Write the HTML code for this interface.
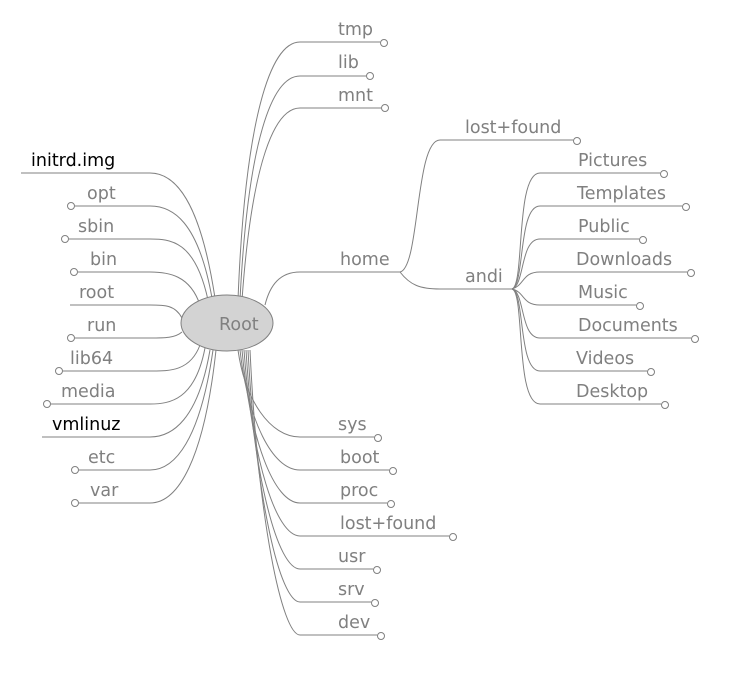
<!DOCTYPE html>
<html><head><style>body{margin:0;background:#fff}svg{display:block}text{font-family:"DejaVu Sans","Liberation Sans",sans-serif;font-size:17.5px;fill:#808080}</style></head><body>
<svg width="732" height="674" viewBox="0 0 732 674" xmlns="http://www.w3.org/2000/svg">
<g fill="none" stroke="#808080" stroke-width="1">
<path d="M238,300 C245,120 270,42 300,42 L380,42"/>
<path d="M240,300 C248,140 272,76 300,76 L366,76"/>
<path d="M242,300 C252,160 275,108 300,108 L381,108"/>
<path d="M265,305 C270,285 280,272 300,272 L400,272"/>
<path d="M400,272 C420,268 415,140 440,140 L573,140"/>
<path d="M400,272 C410,285 420,289 440,289 L512,289"/>
<g>
<path d="M512,289 C525,285 515,173 540,173 L660,173"/>
<path d="M512,289 C525,285 518,206 540,206 L682,206"/>
<path d="M512,289 C525,285 520,239 540,239 L639,239"/>
<path d="M512,289 C525,285 522,272 540,272 L687,272"/>
<path d="M512,289 C525,292 522,305 540,305 L636,305"/>
<path d="M512,289 C525,292 520,338 540,338 L691,338"/>
<path d="M512,289 C525,292 518,371 540,371 L647,371"/>
<path d="M512,289 C525,292 515,404 540,404 L661,404"/>
</g>
<path d="M238,350 C245,400 270,437 300,437 L374,437"/>
<path d="M240,350 C248,420 272,470 300,470 L389,470"/>
<path d="M242,350 C250,440 274,503 300,503 L387,503"/>
<path d="M244,350 C252,460 276,536 300,536 L449,536"/>
<path d="M246,350 C254,480 278,569 300,569 L373,569"/>
<path d="M248,350 C256,500 280,602 300,602 L371,602"/>
<path d="M250,350 C258,520 282,635 300,635 L377,635"/>
<path d="M215,298 C200,200 175,173 150,173 L21,173"/>
<path d="M212,298 C198,220 172,206 150,206 L75,206"/>
<path d="M208,300 C195,240 170,239 150,239 L69,239"/>
<path d="M200,305 C190,275 168,272 150,272 L78,272"/>
<path d="M182,318 C175,305 165,305 150,305 L70,305"/>
<path d="M182,332 C175,338 165,338 150,338 L75,338"/>
<path d="M200,345 C190,372 168,371 150,371 L63,371"/>
<path d="M205,348 C195,400 170,404 150,404 L51,404"/>
<path d="M210,350 C198,420 172,437 150,437 L42,437"/>
<path d="M213,350 C200,440 175,470 150,470 L79,470"/>
<path d="M216,350 C204,460 178,503 150,503 L79,503"/>
</g>
<g fill="#fff" stroke="#808080">
<circle cx="384" cy="43" r="3.5"/><circle cx="370" cy="76" r="3.5"/><circle cx="385" cy="108" r="3.5"/>
<circle cx="577" cy="141" r="3.5"/>
<circle cx="664" cy="174" r="3.5"/><circle cx="686" cy="207" r="3.5"/><circle cx="643" cy="240" r="3.5"/><circle cx="691" cy="273" r="3.5"/><circle cx="640" cy="306" r="3.5"/><circle cx="695" cy="339" r="3.5"/><circle cx="651" cy="372" r="3.5"/><circle cx="665" cy="405" r="3.5"/>
<circle cx="378" cy="438" r="3.5"/><circle cx="393" cy="471" r="3.5"/><circle cx="391" cy="504" r="3.5"/><circle cx="453" cy="537" r="3.5"/><circle cx="377" cy="570" r="3.5"/><circle cx="375" cy="603" r="3.5"/><circle cx="381" cy="636" r="3.5"/>
<circle cx="71" cy="206" r="3.5"/><circle cx="65" cy="239" r="3.5"/><circle cx="74" cy="272" r="3.5"/><circle cx="71" cy="338" r="3.5"/><circle cx="59" cy="371" r="3.5"/><circle cx="47" cy="404" r="3.5"/><circle cx="75" cy="470" r="3.5"/><circle cx="75" cy="503" r="3.5"/>
</g>
<ellipse cx="227" cy="323" rx="46" ry="28" fill="#d3d3d3" stroke="#808080"/>
<text x="219" y="330">Root</text>
<text x="338" y="35">tmp</text><text x="338" y="68">lib</text><text x="338" y="101">mnt</text>
<text x="340" y="265">home</text>
<text x="465" y="133">lost+found</text><text x="465" y="282">andi</text>
<text x="578" y="166">Pictures</text><text x="577" y="199">Templates</text><text x="578" y="232">Public</text><text x="576" y="265">Downloads</text><text x="578" y="298">Music</text><text x="578" y="331">Documents</text><text x="576" y="364">Videos</text><text x="576" y="397">Desktop</text>
<text x="338" y="430">sys</text><text x="340" y="463">boot</text><text x="340" y="496">proc</text><text x="340" y="529">lost+found</text><text x="338" y="562">usr</text><text x="338" y="595">srv</text><text x="338" y="628">dev</text>
<text x="31" y="166" style="fill:#000">initrd.img</text>
<text x="87" y="199">opt</text><text x="78" y="232">sbin</text><text x="90" y="265">bin</text><text x="79" y="298">root</text><text x="87" y="331">run</text><text x="70" y="364">lib64</text><text x="61" y="397">media</text>
<text x="52" y="430" style="fill:#000">vmlinuz</text>
<text x="88" y="463">etc</text><text x="90" y="496">var</text>
</svg>
</body></html>
